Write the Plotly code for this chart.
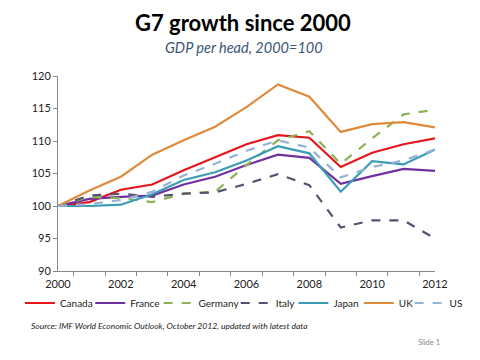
import plotly.graph_objects as go

years = [str(y) for y in range(2000, 2013)]
tick_text = [y if int(y) % 2 == 0 else "" for y in years]

canada  = [100, 100.6, 102.5, 103.3, 105.5, 107.5, 109.5, 110.9, 110.5, 106.0, 108.2, 109.5, 110.4]
france  = [100, 101.1, 101.4, 101.6, 103.3, 104.5, 106.3, 107.9, 107.4, 103.4, 104.6, 105.7, 105.4]
germany = [100, 101.4, 101.2, 100.6, 101.9, 102.2, 106.3, 110.1, 111.5, 106.5, 110.4, 114.1, 114.8]
italy   = [100, 101.6, 101.9, 101.4, 101.9, 102.1, 103.4, 104.9, 103.2, 96.7, 97.8, 97.8, 95.0]
japan   = [100, 100.0, 100.2, 101.8, 104.0, 105.2, 107.0, 109.2, 108.1, 102.2, 106.9, 106.4, 108.7]
uk      = [100, 102.4, 104.5, 107.9, 110.1, 112.2, 115.2, 118.7, 116.8, 111.4, 112.6, 112.9, 112.1]
us      = [100, 100.3, 100.9, 102.2, 104.7, 106.5, 108.5, 110.1, 109.0, 104.4, 106.0, 107.0, 108.7]

series = [
    ("Canada", canada, "#E4161C", "solid"),
    ("France", france, "#7030A0", "solid"),
    ("Germany", germany, "#8DB255", "dash"),
    ("Italy", italy, "#555270", "dash"),
    ("Japan", japan, "#3A9DB5", "solid"),
    ("UK", uk, "#E08A3C", "solid"),
    ("US", us, "#95B3D7", "dash"),
]

# the page body has an 8px default margin; size the figure to fit inside the window
OFF = 8
W, H = 480 - OFF, 360 - OFF
L, T = 58 - OFF, 76 - OFF
PW, PH = 386, 195
R, B = W - L - PW, H - T - PH

def px_x(px):  # page pixel -> paper x
    return (px - OFF - L) / PW

def px_y(py):  # page pixel -> paper y
    return (T + PH - (py - OFF)) / PH

# legend entry origins (page pixels); one legend per series so the row fits
legend_px = [19, 91, 161, 240, 299, 366, 418]

font = "Lato, 'Open Sans', sans-serif"
fig = go.Figure()
layout_legends = {}
for i, (name, vals, color, dash) in enumerate(series):
    lg = "legend" if i == 0 else f"legend{i+1}"
    fig.add_trace(go.Scatter(x=years, y=vals, name=name, mode="lines", legend=lg,
                             line=dict(color=color, width=2.2, dash=dash)))
    layout_legends[lg] = dict(x=px_x(legend_px[i]), xanchor="left", y=px_y(303), yanchor="middle",
                              orientation="h", font=dict(size=10, color="#222", family=font),
                              bgcolor="rgba(0,0,0,0)", borderwidth=0, itemwidth=30)

fig.update_layout(
    width=W, height=H,
    margin=dict(l=L, r=R, t=T, b=B),
    paper_bgcolor="white", plot_bgcolor="white",
    font=dict(family=font, size=11, color="#222"),
    showlegend=True,
    xaxis=dict(type="category", tickmode="array", tickvals=years, ticktext=tick_text,
               tickson="boundaries", ticks="outside", ticklen=4, tickcolor="#888",
               tickangle=0, ticklabelstandoff=3,
               showline=True, linecolor="#888", linewidth=1, showgrid=False,
               tickfont=dict(size=11, color="#222")),
    yaxis=dict(range=[90, 120], dtick=5, ticks="outside", ticklen=4, tickcolor="#888",
               showline=True, linecolor="#888", linewidth=1, showgrid=False, zeroline=False,
               tickfont=dict(size=11, color="#222")),
    annotations=[
        dict(text="<b>G7 growth since 2000</b>", x=px_x(247), y=px_y(22),
             font=dict(size=22, color="#000", family=font)),
        dict(text="<i>GDP per head, 2000=100</i>", x=px_x(248), y=px_y(47),
             font=dict(size=14.5, color="#3B5677", family=font)),
        dict(text="<i>Source: IMF World Economic Outlook, October 2012, updated with latest data</i>",
             x=px_x(28), y=px_y(326), xanchor="left", font=dict(size=8.5, color="#222", family=font)),
        dict(text="Slide 1", x=px_x(451), y=px_y(342), xanchor="right",
             font=dict(size=7.5, color="#888", family=font)),
    ],
    **layout_legends,
)
fig.update_annotations(xref="paper", yref="paper", showarrow=False, yanchor="middle")

fig.write_html("out.html")
